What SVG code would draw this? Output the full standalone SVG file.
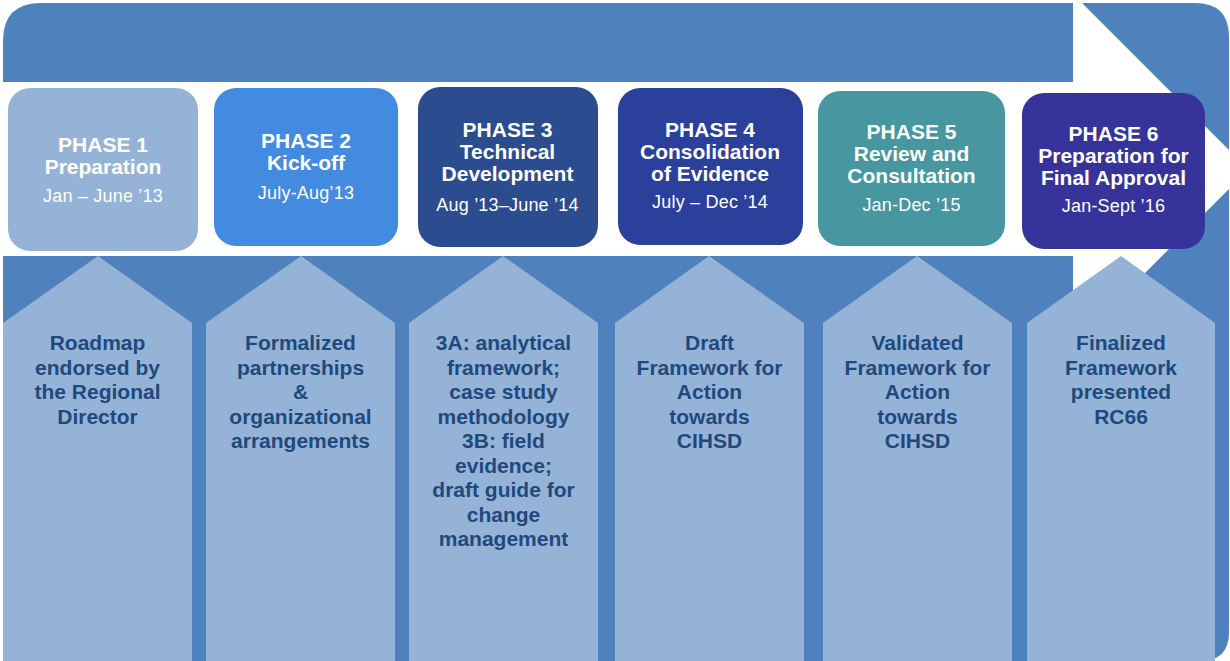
<svg xmlns="http://www.w3.org/2000/svg" width="1230" height="661" viewBox="0 0 1230 661">
<style>
.bg{fill:#4F81BD}
.col{fill:#95B3D7}
.t{font-family:"Liberation Sans",Arial,sans-serif;text-anchor:middle}
.ph{font-size:21px;font-weight:bold;fill:#FFFFFF}
.dt{font-size:18px;fill:#FFFFFF;letter-spacing:0.2px}
.ct{font-size:21px;font-weight:bold;fill:#1F497D}
</style>
<rect width="1230" height="661" fill="#FFFFFF"/>
<g id="arrow-background">
<path class="bg" d="M3,41 Q3,3 41,3 L1073,3 L1073,82 L3,82 Z"/>
<rect class="bg" x="3" y="256" width="1070" height="405"/>
<path class="bg" d="M1082,3 L1195,3 Q1229,3 1229,37 L1229,150 Z"/>
<path class="bg" d="M1229,189 L1229,632 Q1229,661 1200,661 L1082,661 L1082,336 Z"/>
</g>
<g id="connectors"></g>
<g id="column1">
<polygon class="col" points="3,323 98,256 192,323 192,661 3,661"/>
<text class="t ct"><tspan x="97.5" y="350">Roadmap</tspan><tspan x="97.5" y="374.5">endorsed by</tspan><tspan x="97.5" y="399">the Regional</tspan><tspan x="97.5" y="423.5">Director</tspan></text>
</g>
<g id="column2">
<polygon class="col" points="206,323 301,256 395,323 395,661 206,661"/>
<text class="t ct"><tspan x="300.5" y="350">Formalized</tspan><tspan x="300.5" y="374.5">partnerships</tspan><tspan x="300.5" y="399">&amp;</tspan><tspan x="300.5" y="423.5">organizational</tspan><tspan x="300.5" y="448">arrangements</tspan></text>
</g>
<g id="column3">
<polygon class="col" points="409,323 503,256 598,323 598,661 409,661"/>
<text class="t ct"><tspan x="503.5" y="350">3A: analytical</tspan><tspan x="503.5" y="374.5">framework;</tspan><tspan x="503.5" y="399">case study</tspan><tspan x="503.5" y="423.5">methodology</tspan><tspan x="503.5" y="448">3B: field</tspan><tspan x="503.5" y="472.5">evidence;</tspan><tspan x="503.5" y="497">draft guide for</tspan><tspan x="503.5" y="521.5">change</tspan><tspan x="503.5" y="546">management</tspan></text>
</g>
<g id="column4">
<polygon class="col" points="615,323 709,256 804,323 804,661 615,661"/>
<text class="t ct"><tspan x="709.5" y="350">Draft</tspan><tspan x="709.5" y="374.5">Framework for</tspan><tspan x="709.5" y="399">Action</tspan><tspan x="709.5" y="423.5">towards</tspan><tspan x="709.5" y="448">CIHSD</tspan></text>
</g>
<g id="column5">
<polygon class="col" points="823,323 917,256 1012,323 1012,661 823,661"/>
<text class="t ct"><tspan x="917.5" y="350">Validated</tspan><tspan x="917.5" y="374.5">Framework for</tspan><tspan x="917.5" y="399">Action</tspan><tspan x="917.5" y="423.5">towards</tspan><tspan x="917.5" y="448">CIHSD</tspan></text>
</g>
<g id="column6">
<polygon class="col" points="1027,323 1121,256 1215,323 1215,661 1027,661"/>
<text class="t ct"><tspan x="1121" y="350">Finalized</tspan><tspan x="1121" y="374.5">Framework</tspan><tspan x="1121" y="399">presented</tspan><tspan x="1121" y="423.5">RC66</tspan></text>
</g>
<g id="phase1">
<rect x="8" y="88" width="190" height="163" rx="22" fill="#95B3D7"/>
<text class="t ph"><tspan x="103" y="152">PHASE 1</tspan><tspan x="103" y="173.5">Preparation</tspan></text>
<text class="t dt" x="103" y="202">Jan – June ’13</text>
</g>
<g id="phase2">
<rect x="214" y="88" width="184" height="158" rx="22" fill="#438BE0"/>
<text class="t ph"><tspan x="306" y="148">PHASE 2</tspan><tspan x="306" y="170">Kick-off</tspan></text>
<text class="t dt" x="306" y="199">July-Aug’13</text>
</g>
<g id="phase3">
<rect x="418" y="87" width="180" height="160" rx="22" fill="#2B4D8F"/>
<text class="t ph"><tspan x="507.5" y="137">PHASE 3</tspan><tspan x="507.5" y="159">Technical</tspan><tspan x="507.5" y="181">Development</tspan></text>
<text class="t dt" x="507.5" y="211">Aug ’13–June ’14</text>
</g>
<g id="phase4">
<rect x="618" y="88" width="185" height="157" rx="22" fill="#2B409B"/>
<text class="t ph"><tspan x="710" y="137">PHASE 4</tspan><tspan x="710" y="159">Consolidation</tspan><tspan x="710" y="181">of Evidence</tspan></text>
<text class="t dt" x="710" y="208">July – Dec ’14</text>
</g>
<g id="phase5">
<rect x="818" y="91" width="187" height="155" rx="22" fill="#46979F"/>
<text class="t ph"><tspan x="911.5" y="139">PHASE 5</tspan><tspan x="911.5" y="161">Review and</tspan><tspan x="911.5" y="183">Consultation</tspan></text>
<text class="t dt" x="911.5" y="211">Jan-Dec ’15</text>
</g>
<g id="phase6">
<rect x="1022" y="93" width="183" height="156" rx="22" fill="#36339A"/>
<text class="t ph"><tspan x="1113.5" y="141">PHASE 6</tspan><tspan x="1113.5" y="163">Preparation for</tspan><tspan x="1113.5" y="184.5">Final Approval</tspan></text>
<text class="t dt" x="1113.5" y="212">Jan-Sept ’16</text>
</g>
</svg>
